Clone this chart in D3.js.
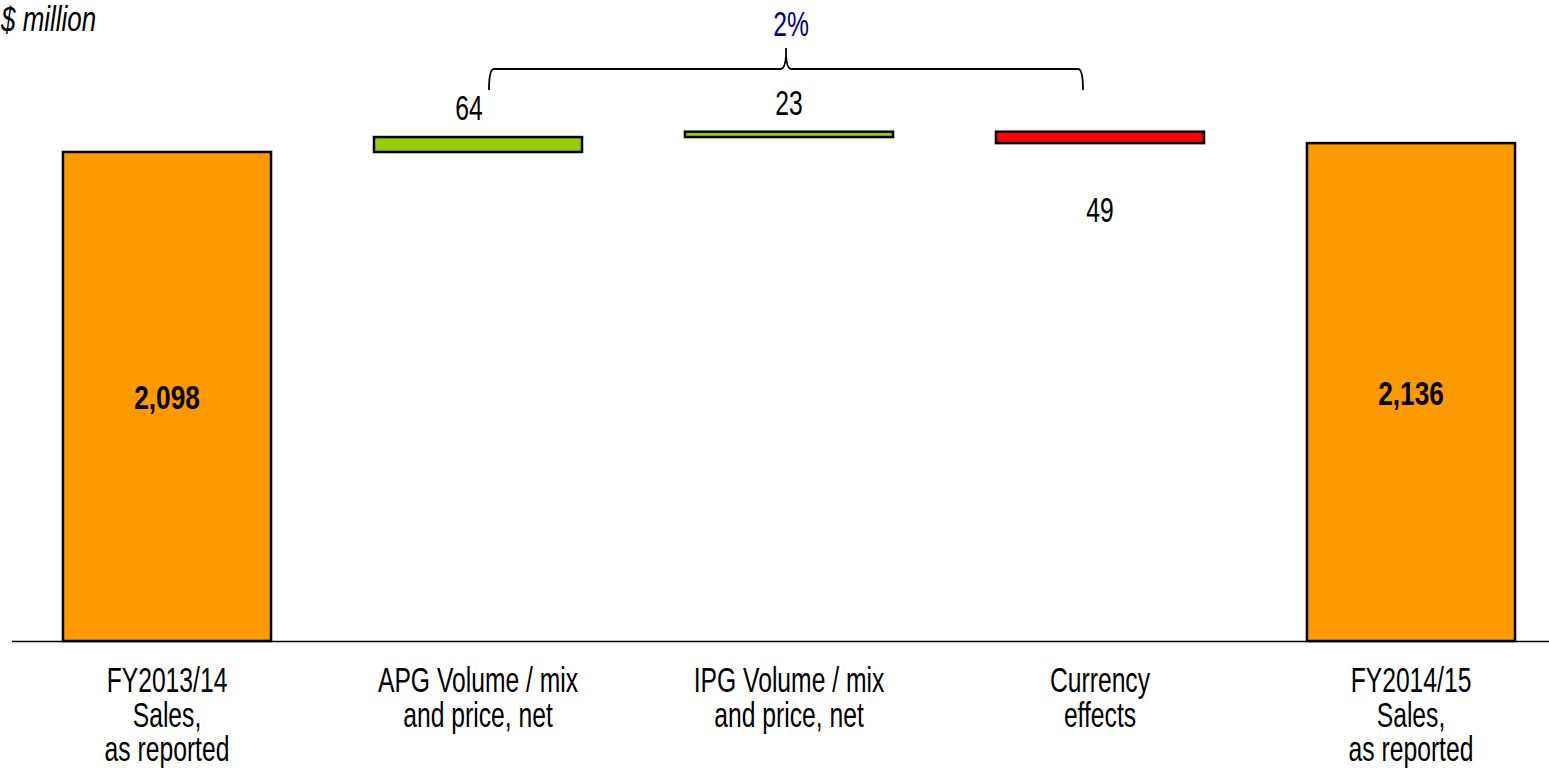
<!DOCTYPE html>
<html>
<head>
<meta charset="utf-8">
<script src="https://cdn.jsdelivr.net/npm/d3@7"></script>
<style>
  body { margin: 0; background: #fff; overflow: hidden; }
</style>
</head>
<body>
<svg id="chart" width="1549" height="772"></svg>
<script>
// chart data
var categories = [
  ["FY2013/14", "Sales,", "as reported"],
  ["APG Volume / mix", "and price, net"],
  ["IPG Volume / mix", "and price, net"],
  ["Currency", "effects"],
  ["FY2014/15", "Sales,", "as reported"]
];
var kinds = ["total", "delta", "delta", "delta", "total"];
var values = [2098, 64, 23, -49, 2136];
var valueLabels = ["2,098", "64", "23", "49", "2,136"];
var growthLabel = "2%";
var unitLabel = "$ million";

// is the narrow font there? compare widths on a canvas
function hasFont(name) {
  var ctx = document.createElement("canvas").getContext("2d");
  ctx.font = "40px monospace";
  var w0 = ctx.measureText("FY2013/14 mix").width;
  ctx.font = "40px '" + name + "', monospace";
  return ctx.measureText("FY2013/14 mix").width !== w0;
}
var narrow = hasFont("Liberation Sans Narrow");
var fontFam = narrow ? "'Liberation Sans Narrow', 'Arial Narrow', sans-serif" : "'Liberation Sans', Arial, sans-serif";
var squeeze = narrow ? 1 : 0.82;

// waterfall steps
var running = 0;
var steps = values.map(function (v, i) {
  var s;
  if (kinds[i] === "total") {
    s = { i: i, y0: 0, y1: v, color: "#FF9900" };
    running = v;
  } else {
    s = { i: i, y0: running, y1: running + v, color: v >= 0 ? "#99CC00" : "#FF0000" };
    running += v;
  }
  s.v = v;
  s.kind = kinds[i];
  s.label = valueLabels[i];
  return s;
});

var svg = d3.select("#chart");

var x = d3.scaleBand()
  .domain(d3.range(categories.length))
  .range([11.5, 1566.5])
  .paddingInner(0.331)
  .paddingOuter(0.1655);

var y = d3.scaleLinear()
  .domain([0, 2750])
  .range([641, 0]);

function cx(i) { return x(i) + x.bandwidth() / 2; }

// bars
svg.selectAll("rect.bar")
  .data(steps)
  .enter().append("rect")
  .attr("class", "bar")
  .attr("x", function (d) { return x(d.i); })
  .attr("width", x.bandwidth())
  .attr("y", function (d) { return y(Math.max(d.y0, d.y1)); })
  .attr("height", function (d) { return Math.abs(y(d.y0) - y(d.y1)); })
  .attr("fill", function (d) { return d.color; })
  .attr("stroke", "#000")
  .attr("stroke-width", 2.5);

// baseline axis
var axis = svg.append("g")
  .attr("transform", "translate(0," + y(0) + ")")
  .call(d3.axisBottom(x).tickSize(0).tickSizeOuter(0).tickFormat(""));
axis.select(".domain").attr("stroke", "#000").attr("stroke-width", 1.5);

function addText(px, py, str, size, sx, opts) {
  opts = opts || {};
  return svg.append("text")
    .attr("transform", "translate(" + px + "," + py + ") scale(" + (sx * squeeze) + ",1)")
    .attr("text-anchor", opts.anchor || "middle")
    .attr("font-family", fontFam)
    .attr("font-size", size)
    .attr("font-weight", opts.weight || "normal")
    .attr("font-style", opts.style || "normal")
    .attr("fill", opts.fill || "#000")
    .text(str);
}

// category labels
categories.forEach(function (lines, i) {
  lines.forEach(function (ln, k) {
    addText(cx(i), y(0) + 51 + k * 34.5, ln, 35, 0.86);
  });
});

// value labels
steps.forEach(function (d) {
  if (d.kind === "total") {
    var mid = (y(d.y0) + y(d.y1)) / 2;
    addText(cx(d.i), mid + 12.5, d.label, 33, 0.97, { weight: "bold" });
  } else if (d.v >= 0) {
    addText(cx(d.i) - (d.i === 1 ? 9 : 0), y(d.y1) - 17, d.label, 35, 0.86);
  } else {
    addText(cx(d.i), y(d.y1) + 79, d.label, 35, 0.86);
  }
});

// unit label
addText(1, 31, unitLabel, 36, 0.88, { anchor: "start", style: "italic" });

// bracket over the changes
var bx0 = cx(1) + 11, bx1 = cx(3) - 17, bmid = (bx0 + bx1) / 2;
var by = 69, bLow = 90, bTop = 48, r = 5;
var br = d3.path();
br.moveTo(bx0, bLow);
br.quadraticCurveTo(bx0, by, bx0 + r, by);
br.lineTo(bmid - 5, by);
br.quadraticCurveTo(bmid - 1, by, bmid, bTop + 8);
br.lineTo(bmid, bTop);
br.moveTo(bmid, bTop + 8);
br.quadraticCurveTo(bmid + 1, by, bmid + 5, by);
br.lineTo(bx1 - r, by);
br.quadraticCurveTo(bx1, by, bx1, bLow);
svg.append("path")
  .attr("d", br.toString())
  .attr("fill", "none")
  .attr("stroke", "#000")
  .attr("stroke-width", 1.8);

addText(bmid + 5, 36, growthLabel, 35, 0.86, { fill: "#000080" });
</script>
</body>
</html>
